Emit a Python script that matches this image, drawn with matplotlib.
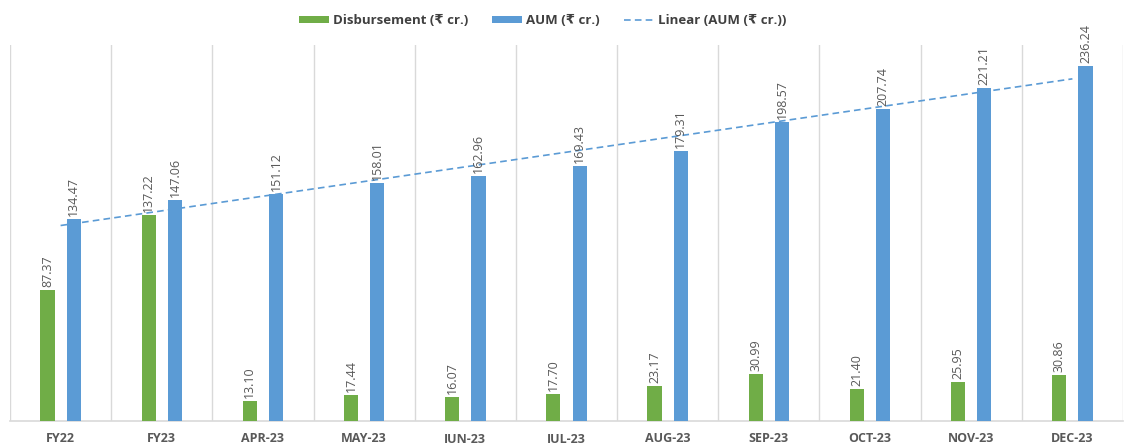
import numpy as np
import matplotlib.pyplot as plt

# ------------------------------------------------------------------
# Data
# ------------------------------------------------------------------
months = ["FY22", "FY23", "APR-23", "MAY-23", "JUN-23", "JUL-23",
          "AUG-23", "SEP-23", "OCT-23", "NOV-23", "DEC-23"]
disbursement = [87.37, 137.22, 13.10, 17.44, 16.07, 17.70, 23.17, 30.99, 21.40, 25.95, 30.86]
aum = [134.47, 147.06, 151.12, 158.01, 162.96, 169.43, 179.31, 198.57, 207.74, 221.21, 236.24]

plt.rcParams["font.family"] = ["Open Sans", "DejaVu Sans"]

green = "#70AD47"
blue = "#5B9BD5"
grid_col = "#D9D9D9"

fig = plt.figure(figsize=(11.28, 4.43), dpi=100)
ax = fig.add_axes([10 / 1128, 1 - 421 / 443, 1113 / 1128, 376 / 443])

x = np.arange(len(months))
w = 0.14
off = 0.13
b1 = ax.bar(x - off, disbursement, w, color=green, label="Disbursement (₹ cr.)", zorder=3)
b2 = ax.bar(x + off, aum, w, color=blue, label="AUM (₹ cr.)", zorder=3)

# linear trend on AUM
k, b = np.polyfit(x, aum, 1)
ln, = ax.plot(x, k * x + b, color=blue, linestyle=(0, (4, 2.5)), linewidth=1.2,
              label="Linear (AUM (₹ cr.))", zorder=4)

for xi, v in zip(x, disbursement):
    ax.text(xi - off, v + 2, f"{v:.2f}", rotation=90, ha="center", va="bottom",
            fontsize=9, color="#595959", zorder=5)
for xi, v in zip(x, aum):
    ax.text(xi + off, v + 2, f"{v:.2f}", rotation=90, ha="center", va="bottom",
            fontsize=9, color="#595959", zorder=5)

ax.set_xlim(-0.5, len(months) - 0.5)
ax.set_ylim(0, 250)
ax.set_yticks([])
ax.set_xticks(x)
ax.set_xticklabels(months, fontsize=9, fontweight="bold", color="#595959")
ax.tick_params(axis="x", length=0, pad=8)

for bd in np.arange(-0.5, len(months), 1.0):
    ax.axvline(bd, color=grid_col, linewidth=1, zorder=1)

for s in ["top", "right", "left"]:
    ax.spines[s].set_visible(False)
ax.spines["bottom"].set_color(grid_col)
ax.spines["bottom"].set_linewidth(1.2)

leg = fig.legend([b1, b2, ln], [b1.get_label(), b2.get_label(), ln.get_label()],
                 loc="upper center", bbox_to_anchor=(0.481, 0.995), ncol=3, frameon=False,
                 fontsize=9.5, handlelength=2.3, handleheight=0.5, columnspacing=1.8,
                 handletextpad=0.3)
for t in leg.get_texts():
    t.set_color("#404040")
    t.set_fontweight("bold")

fig.savefig("out.png", dpi=100)
